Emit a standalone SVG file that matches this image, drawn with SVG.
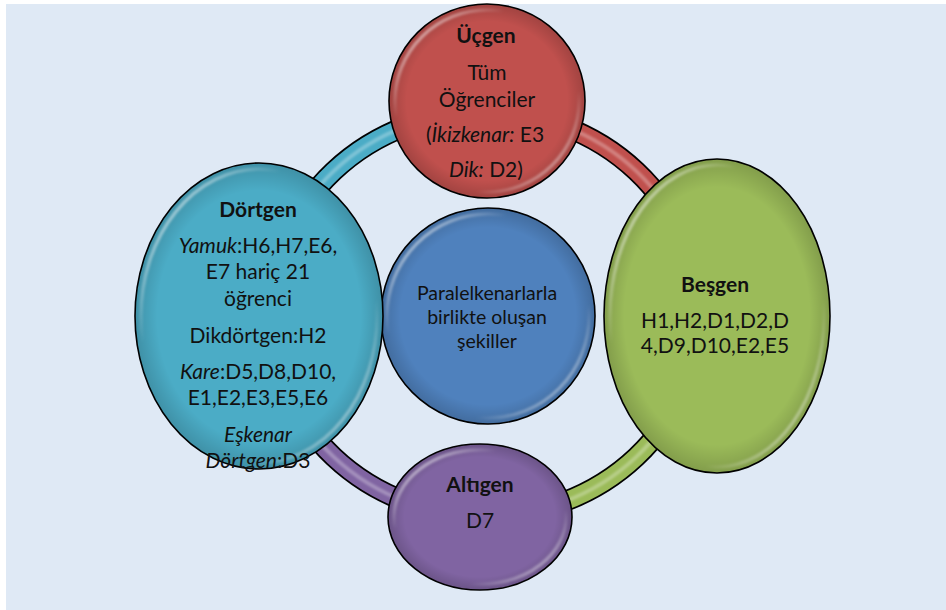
<svg xmlns="http://www.w3.org/2000/svg" width="946" height="610" viewBox="0 0 946 610">
<style>
.t{font-family:Lato,"Open Sans","Noto Sans",sans-serif;font-size:21px;fill:#111;text-anchor:middle}
.b{font-weight:bold}
.i{font-style:italic}
.c{font-size:19.5px}
.node{stroke:#000;stroke-width:1.6}
.sh{fill:url(#shade);stroke:none}
.hl{fill:none;stroke:url(#hlg);stroke-width:3.5;filter:url(#blur)}
.bo{fill:none;stroke:#000;stroke-width:21}
.bi{fill:none;stroke-width:17.5}
.bg{fill:none;stroke:#fff;stroke-opacity:0.28;stroke-width:4;filter:url(#blur)}
</style>
<defs>
<radialGradient id="shade" cx="50%" cy="50%" r="50%">
<stop offset="0.82" stop-color="#000" stop-opacity="0"/>
<stop offset="1" stop-color="#000" stop-opacity="0.16"/>
</radialGradient>
<linearGradient id="hlg" x1="0" y1="0" x2="1" y2="1">
<stop offset="0" stop-color="#fff" stop-opacity="0.85"/>
<stop offset="0.3" stop-color="#fff" stop-opacity="0"/>
<stop offset="0.72" stop-color="#fff" stop-opacity="0"/>
<stop offset="1" stop-color="#fff" stop-opacity="0.7"/>
</linearGradient>
<filter id="blur" x="-10%" y="-10%" width="120%" height="120%"><feGaussianBlur stdDeviation="1"/></filter>
</defs>
<rect x="6" y="4" width="940" height="606" fill="#dfe9f5"/>
<g id="connectors">
<path class="bo" d="M485,112 A214,202 0 0 1 699,314"/>
<path class="bi" stroke="#c0504d" d="M485,112 A214,202 0 0 1 699,314"/>
<path class="bo" d="M699,314 A214,202 0 0 1 485,516"/>
<path class="bi" stroke="#9bbb59" d="M699,314 A214,202 0 0 1 485,516"/>
<path class="bo" d="M485,516 A214,202 0 0 1 271,314"/>
<path class="bi" stroke="#8064a2" d="M485,516 A214,202 0 0 1 271,314"/>
<path class="bo" d="M271,314 A214,202 0 0 1 485,112"/>
<path class="bi" stroke="#4bacc6" d="M271,314 A214,202 0 0 1 485,112"/>
<path class="bg" d="M485,112 A214,202 0 0 1 699,314 A214,202 0 0 1 485,516 A214,202 0 0 1 271,314 A214,202 0 0 1 485,112"/>
</g>
<g id="center">
<ellipse class="node" cx="488" cy="316" rx="107" ry="108" fill="#4f81bd"/>
<ellipse class="sh" cx="488" cy="316" rx="107" ry="108"/>
<ellipse class="hl" cx="488" cy="316" rx="101" ry="102"/>
<text class="t c" x="487" y="300">Paralelkenarlarla</text>
<text class="t c" x="487" y="324">birlikte oluşan</text>
<text class="t c" x="487" y="348">şekiller</text>
</g>
<g id="ucgen">
<ellipse class="node" cx="487" cy="101" rx="98" ry="97" fill="#c0504d"/>
<ellipse class="sh" cx="487" cy="101" rx="98" ry="97"/>
<ellipse class="hl" cx="487" cy="101" rx="92" ry="91"/>
<text class="t b" x="486" y="43">Üçgen</text>
<text class="t" x="487" y="80">Tüm</text>
<text class="t" x="487" y="107">Öğrenciler</text>
<text class="t" x="485" y="142">(<tspan class="i">İkizkenar:</tspan> E3</text>
<text class="t" x="486" y="177"><tspan class="i">Dik:</tspan> D2)</text>
</g>
<g id="besgen">
<ellipse class="node" cx="717" cy="316" rx="113" ry="157" fill="#9bbb59"/>
<ellipse class="sh" cx="717" cy="316" rx="113" ry="157"/>
<ellipse class="hl" cx="717" cy="316" rx="107" ry="151"/>
<text class="t b" x="715" y="292">Beşgen</text>
<text class="t" x="715" y="328">H1,H2,D1,D2,D</text>
<text class="t" x="715" y="353">4,D9,D10,E2,E5</text>
</g>
<g id="altigen">
<ellipse class="node" cx="480" cy="517" rx="92" ry="73" fill="#8064a2"/>
<ellipse class="sh" cx="480" cy="517" rx="92" ry="73"/>
<ellipse class="hl" cx="480" cy="517" rx="86" ry="67"/>
<text class="t b" x="480" y="492">Altıgen</text>
<text class="t" x="480" y="528">D7</text>
</g>
<g id="dortgen">
<ellipse class="node" cx="259" cy="316" rx="124" ry="153" fill="#4bacc6"/>
<ellipse class="sh" cx="259" cy="316" rx="124" ry="153"/>
<ellipse class="hl" cx="259" cy="316" rx="118" ry="147"/>
<text class="t b" x="258" y="217">Dörtgen</text>
<text class="t" x="258" y="253"><tspan class="i">Yamuk</tspan>:H6,H7,E6,</text>
<text class="t" x="258" y="279">E7 hariç 21</text>
<text class="t" x="258" y="306">öğrenci</text>
<text class="t" x="258" y="343">Dikdörtgen:H2</text>
<text class="t" x="258" y="379"><tspan class="i">Kare</tspan>:D5,D8,D10,</text>
<text class="t" x="258" y="405">E1,E2,E3,E5,E6</text>
<text class="t i" x="258" y="442">Eşkenar</text>
<text class="t" x="258" y="468"><tspan class="i">Dörtgen</tspan>:D3</text>
</g>
</svg>
